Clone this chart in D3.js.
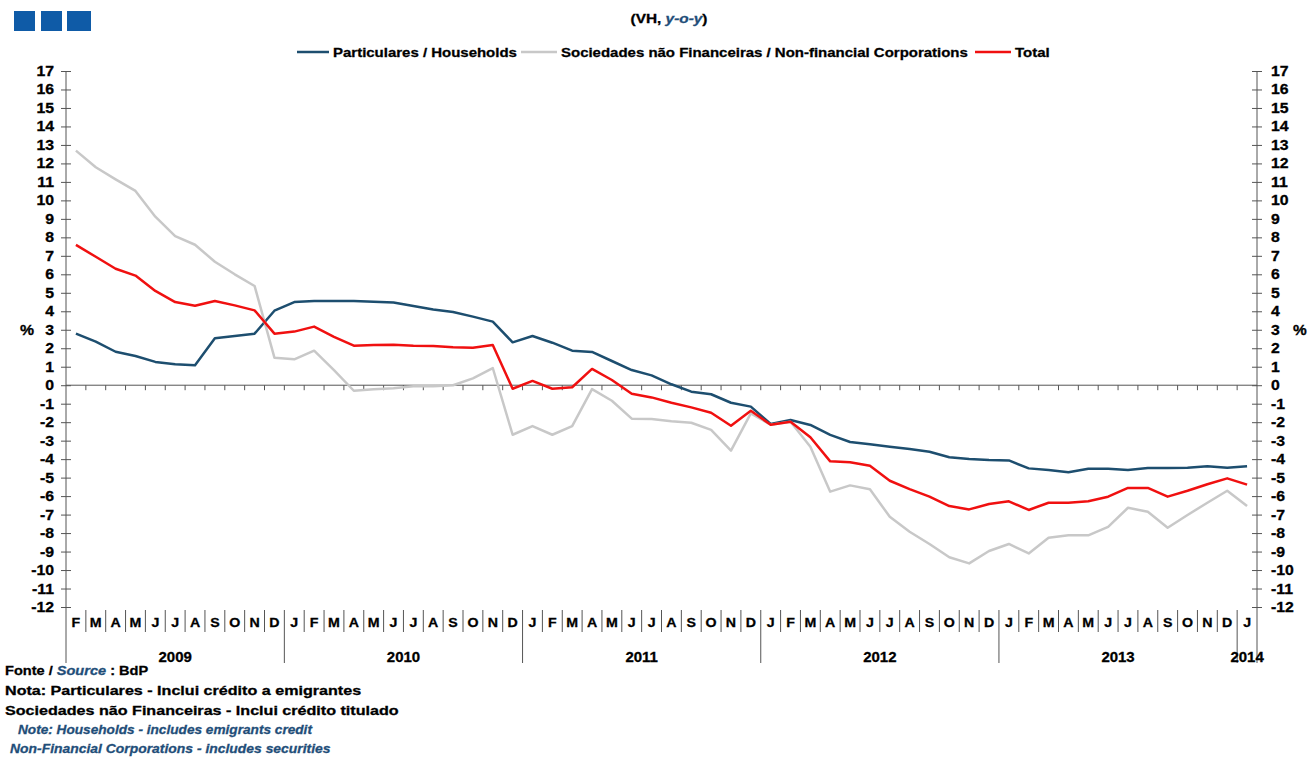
<!DOCTYPE html>
<html>
<head>
<meta charset="utf-8">
<script src="https://cdn.jsdelivr.net/npm/d3@7"></script>
<style>
  body { margin: 0; background: #fff; }
  text { font-family: Arial, "Liberation Sans", sans-serif; font-weight: bold; stroke-width: 0.3; }
</style>
</head>
<body>
<svg id="chart" width="1310" height="763"></svg>
<script>
// data, Feb 2009 .. Jan 2014 (monthly, y-o-y %)
var monthLetters = ["J", "F", "M", "A", "M", "J", "J", "A", "S", "O", "N", "D"];
var startYear = 2009, startMonth = 1, nMonths = 60;
var yearLabels = ["2009", "2010", "2011", "2012", "2013", "2014"];
var yTicks = d3.range(-12, 18);

var households = [2.79, 2.36, 1.81, 1.58, 1.26, 1.13, 1.08, 2.54, 2.66, 2.79,
  4.03, 4.50, 4.56, 4.56, 4.56, 4.52, 4.47, 4.29, 4.10, 3.96,
  3.71, 3.44, 2.32, 2.66, 2.30, 1.87, 1.80, 1.31, 0.82, 0.53,
  0.05, -0.35, -0.49, -0.95, -1.16, -2.10, -1.88, -2.15, -2.69, -3.07,
  -3.20, -3.33, -3.45, -3.60, -3.90, -3.99, -4.05, -4.07, -4.50, -4.59,
  -4.71, -4.52, -4.52, -4.59, -4.48, -4.48, -4.46, -4.39, -4.46, -4.39];
var corporations = [12.69, 11.79, 11.14, 10.51, 9.12, 8.07, 7.60, 6.68, 6.00, 5.37,
  1.49, 1.40, 1.87, 0.82, -0.30, -0.22, -0.17, -0.06, -0.05, 0.00,
  0.37, 0.93, -2.68, -2.21, -2.68, -2.21, -0.21, -0.84, -1.81, -1.83,
  -1.95, -2.03, -2.42, -3.54, -1.52, -2.14, -1.98, -3.33, -5.76, -5.42,
  -5.63, -7.12, -7.93, -8.59, -9.31, -9.64, -8.97, -8.59, -9.10, -8.25,
  -8.12, -8.12, -7.66, -6.63, -6.85, -7.71, -7.02, -6.36, -5.71, -6.54];
var total = [7.59, 6.95, 6.30, 5.93, 5.10, 4.50, 4.30, 4.56, 4.32, 4.05,
  2.79, 2.90, 3.17, 2.62, 2.14, 2.17, 2.19, 2.14, 2.12, 2.05,
  2.03, 2.17, -0.19, 0.23, -0.19, -0.11, 0.88, 0.28, -0.46, -0.66,
  -0.95, -1.20, -1.49, -2.19, -1.38, -2.14, -1.98, -2.82, -4.12, -4.17,
  -4.36, -5.17, -5.62, -6.03, -6.54, -6.72, -6.43, -6.28, -6.75, -6.36,
  -6.36, -6.28, -6.03, -5.56, -5.56, -6.03, -5.71, -5.36, -5.04, -5.38];

var series = [
  { name: "Particulares / Households", values: households, color: "#1d4e6f" },
  { name: "Sociedades não Financeiras / Non-financial Corporations", values: corporations, color: "#c8c8c8" },
  { name: "Total", values: total, color: "#f01010" }
];

var months = d3.range(nMonths).map(function (i) {
  var m = startMonth + i;
  return { key: i, year: startYear + Math.floor(m / 12), month: m % 12 };
});

var svg = d3.select("#chart");
var blueText = "#1f4e79";
var axisColor = "#555555";

var x = d3.scaleBand().domain(months.map(function (d) { return d.key; })).range([66, 1257]).padding(0);
var y = d3.scaleLinear().domain([-12, 17]).range([607, 71]);
var bw = x.bandwidth();

// text stretched horizontally like the source picture
function label(parent, px, py, size, sx, anchor, color) {
  return parent.append("text")
    .attr("transform", "translate(" + px + "," + py + ") scale(" + sx + ",1)")
    .attr("font-size", size).attr("text-anchor", anchor || "start")
    .attr("fill", color || "#000").attr("stroke", color || "#000");
}

// logo
[[14, 21], [41, 21], [67, 24]].forEach(function (r) {
  svg.append("rect").attr("x", r[0]).attr("y", 11).attr("width", r[1]).attr("height", 20).attr("fill", "#0f5ba7");
});

// title
var title = label(svg, 669, 23, 13.5, 1.14, "middle");
title.append("tspan").text("(VH, ");
title.append("tspan").attr("fill", blueText).attr("stroke", blueText).attr("font-style", "italic").text("y-o-y");
title.append("tspan").text(")");

// legend
var legendPos = [[297, 333], [521, 561], [975, 1015]];
series.forEach(function (s, i) {
  var lp = legendPos[i];
  svg.append("line").attr("x1", lp[0]).attr("x2", lp[1] - 4).attr("y1", 52).attr("y2", 52)
    .attr("stroke", s.color).attr("stroke-width", 2.5);
  label(svg, lp[1], 57, 13.5, 1.11).text(s.name);
});

// y axes (ticks cross the axis line)
var leftAxis = svg.append("g").attr("transform", "translate(66,0)")
  .call(d3.axisLeft(y).tickValues(yTicks).tickSizeOuter(0).tickFormat(""));
var rightAxis = svg.append("g").attr("transform", "translate(1257,0)")
  .call(d3.axisRight(y).tickValues(yTicks).tickSizeOuter(0).tickFormat(""));
[leftAxis, rightAxis].forEach(function (g) {
  g.select(".domain").remove();
  g.selectAll(".tick text").remove();
  g.selectAll(".tick line").attr("x1", -5).attr("x2", 5).attr("stroke", axisColor);
});
svg.append("line").attr("x1", 66).attr("x2", 66).attr("y1", y(17)).attr("y2", 663).attr("stroke", axisColor);
svg.append("line").attr("x1", 1257).attr("x2", 1257).attr("y1", y(17)).attr("y2", 663).attr("stroke", axisColor);

var tickLabels = svg.append("g");
yTicks.forEach(function (v) {
  label(tickLabels, 54, y(v) + 5, 14, 1.13, "end").text(v);
  label(tickLabels, 1271, y(v) + 5, 14, 1.13, "start").text(v);
});
label(svg, 20, y(3) + 5, 14, 1.13).text("%");
label(svg, 1293, y(3) + 5, 14, 1.1).text("%");

// zero line with month ticks
svg.append("line").attr("x1", 66).attr("x2", 1257).attr("y1", y(0)).attr("y2", y(0)).attr("stroke", axisColor);
svg.append("g").selectAll("line").data(months.slice(1)).join("line")
  .attr("x1", function (d) { return x(d.key); }).attr("x2", function (d) { return x(d.key); })
  .attr("y1", y(0)).attr("y2", y(0) + 5).attr("stroke", axisColor);

// bottom month separators and labels
svg.append("g").selectAll("line").data(months.slice(1)).join("line")
  .attr("x1", function (d) { return x(d.key); }).attr("x2", function (d) { return x(d.key); })
  .attr("y1", 610).attr("y2", function (d) { return d.month === 0 ? 663 : 632; })
  .attr("stroke", axisColor);
var monthG = svg.append("g");
months.forEach(function (d) {
  label(monthG, x(d.key) + bw / 2, 627, 13.5, 1.05, "middle").text(monthLetters[d.month]);
});

// year labels centred on their months
var yearG = svg.append("g");
yearLabels.forEach(function (yr) {
  var ms = months.filter(function (d) { return d.year === +yr; });
  var cx = (x(ms[0].key) + x(ms[ms.length - 1].key) + bw) / 2;
  label(yearG, cx, 662, 14, 1.07, "middle").text(yr);
});

// lines
var line = d3.line()
  .x(function (d, i) { return x(months[i].key) + bw / 2; })
  .y(function (d) { return y(d); });
series.forEach(function (s) {
  svg.append("path").datum(s.values).attr("d", line).attr("fill", "none")
    .attr("stroke", s.color).attr("stroke-width", 2.5).attr("stroke-linejoin", "round");
});

// footnotes
var f1 = label(svg, 5, 675, 13, 1.12);
f1.append("tspan").text("Fonte / ");
f1.append("tspan").attr("fill", blueText).attr("stroke", blueText).attr("font-style", "italic").text("Source");
f1.append("tspan").text(" : BdP");
label(svg, 5, 695, 13, 1.24).text("Nota: Particulares - Inclui crédito a emigrantes");
label(svg, 5, 715, 13, 1.24).text("Sociedades não Financeiras - Inclui crédito titulado");
label(svg, 18, 734, 13, 1.05, "start", blueText).attr("font-style", "italic")
  .text("Note: Households - includes emigrants credit");
label(svg, 10, 753, 13, 1.07, "start", blueText).attr("font-style", "italic")
  .text("Non-Financial Corporations - includes securities");
</script>
</body>
</html>
